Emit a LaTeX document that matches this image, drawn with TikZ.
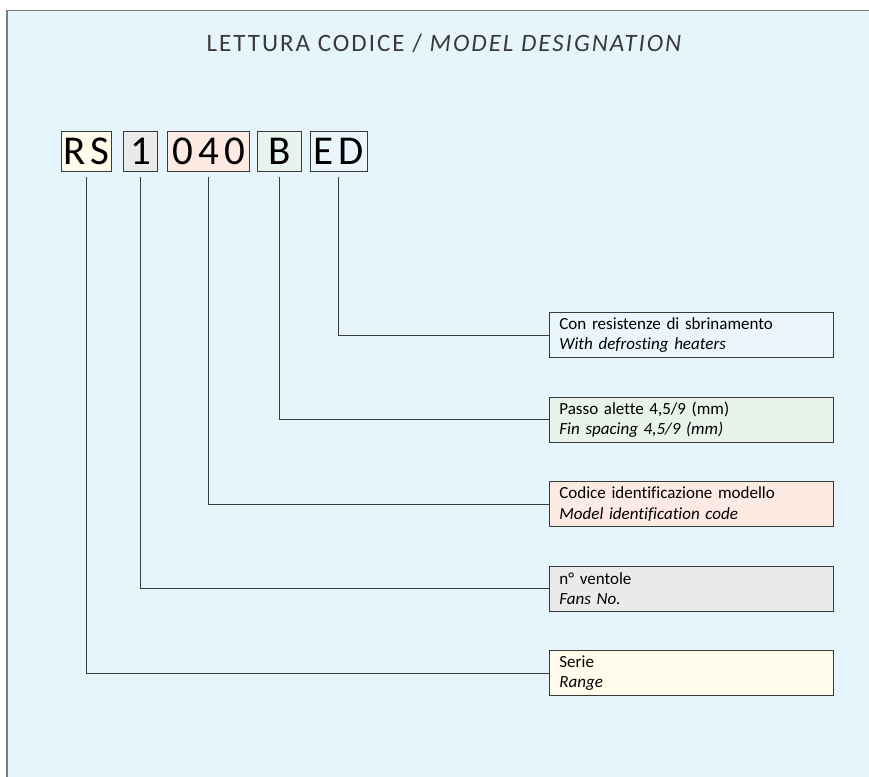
\documentclass[tikz,border=0pt]{standalone}
\usepackage{fontspec}
\setmainfont[Ligatures=NoCommon]{Carlito}
\newfontfamily\codefont[LetterSpace=12]{Carlito}
\newfontfamily\titlefont[LetterSpace=8]{Carlito}
\usepackage{tikz}
\usetikzlibrary{positioning}

\definecolor{panelbg}{HTML}{E6F4FC}
\definecolor{panelline}{HTML}{7A7A7A}
\definecolor{boxline}{HTML}{3A3A3A}
\definecolor{fillrange}{HTML}{FFFCEB}
\definecolor{fillfans}{HTML}{EAEAEA}
\definecolor{fillmodel}{HTML}{FDEAE2}
\definecolor{fillfin}{HTML}{E8F3EB}
\definecolor{filldefr}{HTML}{EAF6FC}

\tikzset{
  codebox/.style={draw=boxline, line width=0.8pt, inner sep=0pt,
    minimum height=40pt, font=\codefont\fontsize{41}{41}\selectfont},
  descbox/.style={draw=boxline, line width=0.8pt, anchor=west,
    minimum width=284pt, minimum height=45pt, inner xsep=10pt,
    inner ysep=0pt, text width=264pt, align=left,
    font=\fontsize{17}{20.5}\selectfont},
  link/.style={draw=boxline, line width=0.8pt, shorten <=6pt}
}

\begin{document}
\begin{tikzpicture}[x=1pt, y=-1pt]
  \useasboundingbox (0,0) rectangle (869,776);
  % Panel
  \fill[panelbg] (7,10.5) rectangle (872,778);
  \draw[panelline, line width=1.6pt] (7,778) -- (7,10.5) -- (872,10.5);
  % Title
  \node[font=\titlefont\fontsize{25}{25}\selectfont, text=boxline] (title) at (445,43)
    {LETTURA CODICE / \textit{MODEL DESIGNATION}};
  % Code
  \node[codebox, fill=fillrange, minimum width=50pt] (c-rs) at (86.3,151) {RS};
  \node[codebox, fill=fillfans,  minimum width=34pt] (c-fans) at (140.5,151) {1};
  \node[codebox, fill=fillmodel, minimum width=82pt] (c-model) at (208.8,151) {040};
  \node[codebox, fill=fillfin,   minimum width=44pt] (c-fin) at (279.2,151) {B};
  \node[codebox, fill=filldefr,  minimum width=57pt] (c-defr) at (338.7,151) {ED};
  % Descriptions
  \node[descbox, fill=filldefr] (d-defr) at (549,335)
    {Con resistenze di sbrinamento\\\textit{With defrosting heaters}};
  \node[descbox, fill=fillfin] (d-fin) at (549,419.5)
    {Passo alette 4,5/9 (mm)\\\textit{Fin spacing 4,5/9 (mm)}};
  \node[descbox, fill=fillmodel] (d-model) at (549,504)
    {Codice identificazione modello\\\textit{Model identification code}};
  \node[descbox, fill=fillfans] (d-fans) at (549,588.5)
    {n° ventole\\\textit{Fans No.}};
  \node[descbox, fill=fillrange] (d-rs) at (549,673)
    {Serie\\\textit{Range}};
  % Connectors
  \draw[link] (c-defr.south) |- (d-defr.west);
  \draw[link] (c-fin.south) |- (d-fin.west);
  \draw[link] (c-model.south) |- (d-model.west);
  \draw[link] (c-fans.south) |- (d-fans.west);
  \draw[link] (c-rs.south) |- (d-rs.west);
\end{tikzpicture}
\end{document}
